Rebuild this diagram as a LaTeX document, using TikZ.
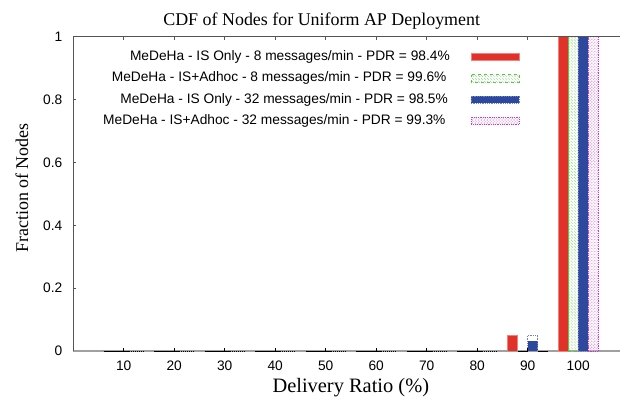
\documentclass[tikz,border=0pt]{standalone}
\usepackage{fontspec}
\setmainfont{Liberation Serif}
\setsansfont{Liberation Sans}
\usetikzlibrary{patterns}
\definecolor{barred}{RGB}{224,50,40}
\definecolor{barredline}{RGB}{240,130,125}
\definecolor{bargreen}{RGB}{90,200,70}
\definecolor{barhatch}{RGB}{150,215,140}
\definecolor{barblue}{RGB}{46,72,158}
\definecolor{barblueline}{RGB}{110,130,200}
\definecolor{barmag}{RGB}{200,60,200}
\definecolor{barmaghatch}{RGB}{225,160,225}
\definecolor{axisdark}{RGB}{85,85,85}
\definecolor{axislight}{RGB}{160,160,160}
\tikzset{
  ticklab/.style={font=\sffamily\fontsize{13.8}{15}\selectfont, inner sep=0pt},
  legtext/.style={font=\sffamily\fontsize{13.8}{15}\selectfont, inner sep=0pt, anchor=east},
  bigtext/.style={font=\fontsize{18}{20}\selectfont, inner sep=0pt},
  redbar/.style={fill=barred, draw=barredline, line width=0.8bp},
  greenbar/.style={pattern=north west lines, pattern color=barhatch, draw=bargreen, dashed, line width=0.8bp},
  bluebar/.style={fill=barblue, draw=barblueline, densely dotted, line width=0.8bp},
  magbar/.style={pattern=crosshatch, pattern color=barmaghatch, draw=barmag, densely dotted, line width=0.8bp},
  axisline/.style={draw=axisdark, line width=0.7bp},
}
\begin{document}
\begin{tikzpicture}[x=1bp,y=-1bp]
\useasboundingbox (0,0) rectangle (620,404);
\fill[white] (0,0) rectangle (620,404);

% title and axis labels
\node[bigtext] (title) at (321.7,21) {CDF of Nodes for Uniform AP Deployment};
\node[bigtext, font=\fontsize{20.5}{22}\selectfont] (xlab) at (350.8,388) {Delivery Ratio (\%)};
\node[bigtext, rotate=90] (ylab) at (22,188) {Fraction of Nodes};

% y ticks and labels
\foreach \f/\lab [count=\i] in {0/0,0.2/0.2,0.4/0.4,0.6/0.6,0.8/0.8,1/1}{
  \pgfmathsetmacro{\py}{351-314.3*\f}
  \draw[axisdark, line width=0.6bp] (73,\py) -- (76,\py);
  \node[ticklab, anchor=east] (ytick\i) at (62.5,\py) {\lab};
}

% x ticks, labels and zero bars
\foreach \v in {10,20,...,100}{
  \pgfmathsetmacro{\c}{73.2+5.05*\v}
  \draw[axisdark, line width=0.6bp] (\c,36.7) -- (\c,40);
  \node[ticklab] (xtick\v) at (\c,365.5) {\v};
}
\draw[axislight, line width=1.6bp] (73,351) -- (620,351);
\foreach \v in {10,20,...,80}{
  \pgfmathsetmacro{\c}{73.2+5.05*\v}
  \draw[black, line width=1bp] (\c-20.2,351) -- (\c+5,351);
  \draw[black, densely dotted, line width=1bp] (\c+5,351) -- (\c+20.2,351);
  \draw[black, line width=0.6bp] (\c,351) -- (\c,347.5);
}

% group at 90
\fill[barred] (507.5,351) rectangle (517.6,335);
\draw[barredline, line width=0.6bp] (507.5,351) -- (507.5,335) -- (517.6,335) -- (517.6,351);
\draw[black, line width=1bp] (517.6,351) -- (527.7,351);
\fill[barblue] (527.7,351) rectangle (537.8,340.7);
\draw[barblueline, densely dotted, line width=0.8bp] (527.7,351) -- (527.7,335) -- (537.8,335) -- (537.8,351);
\draw[black, line width=1bp] (537.8,351) -- (547.9,351);
\draw[black, line width=0.6bp] (527.7,351) -- (527.7,347.5);

% group at 100
\path[redbar] (558.0,351) rectangle (568.1,36.7);
\path[greenbar] (568.1,351) rectangle (578.2,36.7);
\draw[bargreen, line width=0.8bp] (568.1,351) -- (568.1,36.7);
\path[bluebar] (578.2,351) rectangle (588.3,36.7);
\path[magbar] (588.3,351) rectangle (598.4,36.7);
\draw[black, line width=1.2bp] (568.1,36.7) -- (598.4,36.7);

% axes frame (left and top)
\draw[axisline] (620,36.7) -- (73,36.7) -- (73,351);

% legend
\node[legtext] (leg1) at (450,57) {MeDeHa - IS Only - 8 messages/min - PDR = 98.4\%};
\node[legtext] (leg2) at (446.7,78.3) {MeDeHa - IS+Adhoc - 8 messages/min - PDR = 99.6\%};
\node[legtext] (leg3) at (448,99.7) {MeDeHa - IS Only - 32 messages/min - PDR = 98.5\%};
\node[legtext] (leg4) at (445.7,120.7) {MeDeHa - IS+Adhoc - 32 messages/min - PDR = 99.3\%};
\path[redbar] (471,53.5) rectangle (519.3,60.5);
\path[greenbar] (471,74.5) rectangle (519.3,82);
\path[bluebar] (471,96) rectangle (519.3,103.3);
\path[magbar] (471,117.3) rectangle (519.3,124);
\end{tikzpicture}
\end{document}
